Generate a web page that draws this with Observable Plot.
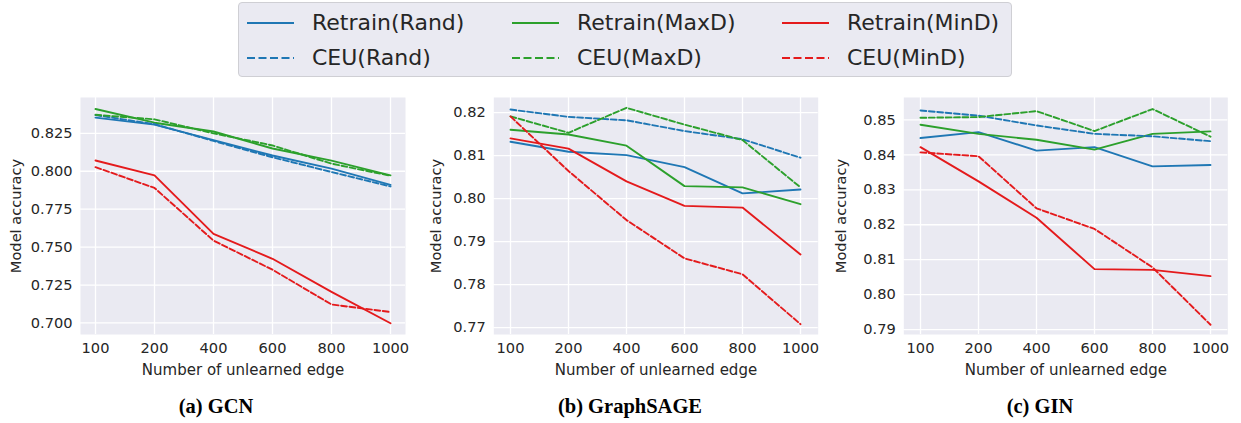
<!DOCTYPE html>
<html>
<head>
<meta charset="utf-8">
<script src="https://cdn.jsdelivr.net/npm/d3@7"></script>
<script src="https://cdn.jsdelivr.net/npm/@observablehq/plot@0.6"></script>
<style>
  body { margin: 0; background: #fff; font-family: "DejaVu Sans", sans-serif; }
  #root { position: relative; width: 1241px; height: 423px; overflow: hidden; }
  .panel { position: absolute; top: 85px; }
  .legend { position: absolute; left: 238px; top: 2px; width: 772px; height: 73px;
            background: #eaeaf2; border: 1px solid #cfcfd4; border-radius: 4px; }
  .li { position: absolute; font-size: 22px; color: #262626; white-space: nowrap; line-height: 24px; }
  .sw { position: absolute; }
  .cap { position: absolute; top: 395px; font-family: "Liberation Serif", "DejaVu Serif", serif;
         font-weight: bold; font-size: 20.5px; color: #000; transform: translateX(-50%); white-space: nowrap; }
</style>
</head>
<body>
<div id="root"></div>
<script>
// ---- data ----
const xLabels = ["100", "200", "400", "600", "800", "1000"];
const seriesNames = ["Retrain(Rand)", "Retrain(MaxD)", "Retrain(MinD)", "CEU(Rand)", "CEU(MaxD)", "CEU(MinD)"];
const seriesColors = ["#1f77b4", "#2ca02c", "#e41a1c", "#1f77b4", "#2ca02c", "#e41a1c"];
const seriesDashed = [false, false, false, true, true, true];

// (a) GCN
const gcnRetrainRand = [0.8353, 0.8307, 0.8205, 0.8104, 0.8017, 0.7910];
const gcnRetrainMaxD = [0.8410, 0.8320, 0.8262, 0.8150, 0.8070, 0.7973];
const gcnRetrainMinD = [0.8071, 0.7973, 0.7587, 0.7423, 0.7205, 0.6998];
const gcnCeuRand     = [0.8370, 0.8310, 0.8200, 0.8092, 0.7995, 0.7900];
const gcnCeuMaxD     = [0.8372, 0.8342, 0.8250, 0.8170, 0.8050, 0.7970];
const gcnCeuMinD     = [0.8027, 0.7890, 0.7543, 0.7351, 0.7122, 0.7072];

// (b) GraphSAGE
const sageRetrainRand = [0.8132, 0.8109, 0.8101, 0.8073, 0.8012, 0.8021];
const sageRetrainMaxD = [0.8160, 0.8149, 0.8123, 0.8029, 0.8026, 0.7987];
const sageRetrainMinD = [0.8140, 0.8116, 0.8040, 0.7983, 0.7979, 0.7870];
const sageCeuRand     = [0.8207, 0.8190, 0.8182, 0.8157, 0.8138, 0.8095];
const sageCeuMaxD     = [0.8191, 0.8153, 0.8211, 0.8172, 0.8136, 0.8026];
const sageCeuMinD     = [0.8191, 0.8064, 0.7950, 0.7861, 0.7824, 0.7708];

// (c) GIN
const ginRetrainRand = [0.8448, 0.8465, 0.8412, 0.8422, 0.8367, 0.8371];
const ginRetrainMaxD = [0.8486, 0.8460, 0.8443, 0.8415, 0.8460, 0.8467];
const ginRetrainMinD = [0.8422, 0.8324, 0.8220, 0.8073, 0.8071, 0.8053];
const ginCeuRand     = [0.8527, 0.8512, 0.8484, 0.8460, 0.8453, 0.8439];
const ginCeuMaxD     = [0.8506, 0.8508, 0.8525, 0.8468, 0.8531, 0.8452];
const ginCeuMinD     = [0.8407, 0.8396, 0.8247, 0.8188, 0.8078, 0.7914];

const yTicksA = [0.700, 0.725, 0.750, 0.775, 0.800, 0.825];
const yTicksB = [0.77, 0.78, 0.79, 0.80, 0.81, 0.82];
const yTicksC = [0.79, 0.80, 0.81, 0.82, 0.83, 0.84, 0.85];

const captions = ["(a) GCN", "(b) GraphSAGE", "(c) GIN"];
const xAxisLabel = "Number of unlearned edge";
const yAxisLabel = "Model accuracy";

// ---- build ----
function tidy(seriesArrays) {
  const rows = [];
  seriesArrays.forEach((vals, i) => {
    vals.forEach((v, j) => rows.push({series: seriesNames[i], x: xLabels[j], y: v, idx: i}));
  });
  return rows;
}

const panels = [
  {data: tidy([gcnRetrainRand, gcnRetrainMaxD, gcnRetrainMinD, gcnCeuRand, gcnCeuMaxD, gcnCeuMinD]),
   left: 0, width: 410, ml: 80, mr: 5, domain: [0.6924, 0.8486], ticks: yTicksA, fmt: ".3f", cap: 216},
  {data: tidy([sageRetrainRand, sageRetrainMaxD, sageRetrainMinD, sageCeuRand, sageCeuMaxD, sageCeuMinD]),
   left: 420, width: 410, ml: 73.3, mr: 12.3, domain: [0.7684, 0.8235], ticks: yTicksB, fmt: ".2f", cap: 630},
  {data: tidy([ginRetrainRand, ginRetrainMaxD, ginRetrainMinD, ginCeuRand, ginCeuMaxD, ginCeuMinD]),
   left: 825, width: 416, ml: 78.3, mr: 13.7, domain: [0.7886, 0.8564], ticks: yTicksC, fmt: ".2f", cap: 1040}
];

const root = document.getElementById("root");

panels.forEach((p, k) => {
  const lineMarks = seriesNames.map((name, i) =>
    Plot.line(p.data.filter(d => d.idx === i), {
      x: "x", y: "y", stroke: seriesColors[i], strokeWidth: 1.9,
      strokeDasharray: seriesDashed[i] ? "5.8,2.6" : null
    })
  );
  const chart = Plot.plot({
    width: p.width, height: 300,
    marginLeft: p.ml, marginRight: p.mr, marginTop: 12, marginBottom: 51,
    style: {fontFamily: "DejaVu Sans", fontSize: "14.5px", color: "#262626", background: "transparent"},
    x: {type: "point", domain: xLabels, padding: 0.25},
    y: {domain: p.domain},
    marks: [
      Plot.frame({fill: "#eaeaf2", stroke: null}),
      Plot.gridX({stroke: "white", strokeOpacity: 1, strokeWidth: 1.3}),
      Plot.gridY(p.ticks, {stroke: "white", strokeOpacity: 1, strokeWidth: 1.3}),
      ...lineMarks,
      Plot.axisX({tickSize: 0, tickPadding: 8, fontSize: 14.6, label: null}),
      Plot.axisX({tickSize: 0, tickPadding: 8, fontSize: 15, ticks: [], label: xAxisLabel,
                  labelAnchor: "center", labelArrow: "none", labelOffset: 40}),
      Plot.axisY(p.ticks, {tickSize: 0, tickPadding: 8, fontSize: 14.6, tickFormat: d3.format(p.fmt),
                  label: yAxisLabel, labelAnchor: "center", labelArrow: "none", labelOffset: p.ml - 10})
    ]
  });
  chart.classList.add("panel");
  chart.style.left = p.left + "px";
  root.appendChild(chart);

  const cap = document.createElement("div");
  cap.className = "cap";
  cap.style.left = p.cap + "px";
  cap.textContent = captions[k];
  root.appendChild(cap);
});

// legend
const legend = document.createElement("div");
legend.className = "legend";
root.appendChild(legend);
const colX = [8, 273, 543];
const rowY = [20, 55];
seriesNames.forEach((name, i) => {
  const col = i % 3, row = Math.floor(i / 3);
  const sw = d3.create("svg").attr("class", "sw").attr("width", 48).attr("height", 6)
    .style("left", colX[col] + "px").style("top", (rowY[row] - 3) + "px");
  sw.append("line").attr("x1", 0).attr("x2", 47).attr("y1", 3).attr("y2", 3)
    .attr("stroke", seriesColors[i]).attr("stroke-width", 2.2)
    .attr("stroke-dasharray", seriesDashed[i] ? "8,3.5" : null);
  legend.appendChild(sw.node());
  const t = document.createElement("div");
  t.className = "li";
  t.textContent = name;
  t.style.left = (colX[col] + 65) + "px";
  t.style.top = (rowY[row] - 12) + "px";
  legend.appendChild(t);
});
</script>
</body>
</html>
